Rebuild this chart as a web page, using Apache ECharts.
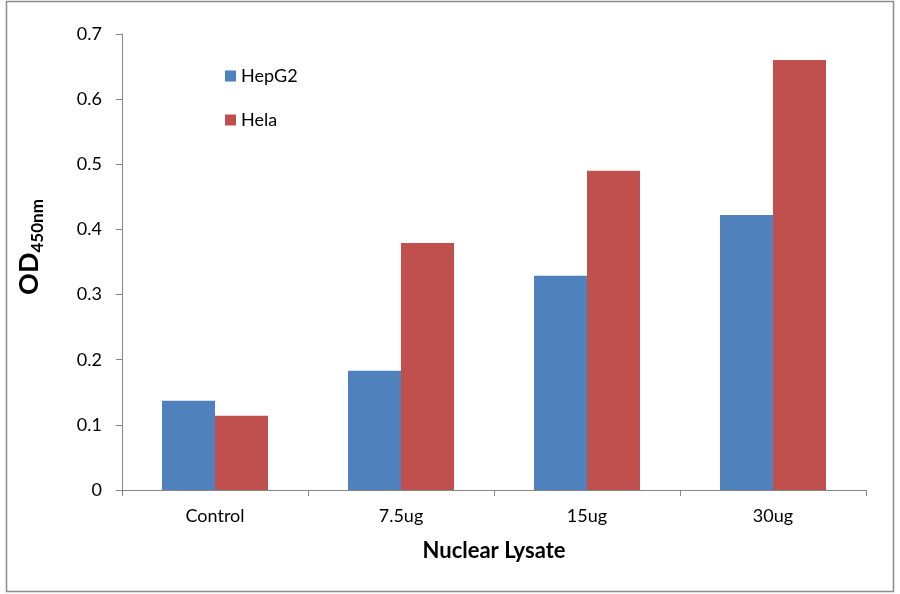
<!DOCTYPE html>
<html>
<head>
<meta charset="utf-8">
<script src="https://cdn.jsdelivr.net/npm/echarts@6/dist/echarts.min.js"></script>
<style>
  html, body { margin: 0; padding: 0; background: #fff; }
  #chart { width: 900px; height: 594px; }
</style>
</head>
<body>
<div id="chart"></div>
<script>
var categories = ['Control', '7.5ug', '15ug', '30ug'];
var hepg2 = [0.137, 0.183, 0.329, 0.422];
var hela = [0.114, 0.379, 0.490, 0.660];
var yTicks = { min: 0, max: 0.7, interval: 0.1 };

var axisGray = '#868686';
var font = 'Lato';

var myChart = echarts.init(document.getElementById('chart'));

myChart.setOption({
    animation: false,
    color: ['#4F81BD', '#C0504D'],
    textStyle: { fontFamily: font },
    // outer chart frame
    graphic: [{
        type: 'rect',
        shape: { x: 6.5, y: 1.5, width: 887, height: 590 },
        style: { fill: 'none', stroke: '#8c8c8c', lineWidth: 1.5 },
        silent: true
    }],
    grid: {
        left: 122,
        right: 34,
        top: 34,
        bottom: 104
    },
    legend: {
        orient: 'vertical',
        left: 220,
        top: 62,
        itemWidth: 11,
        itemHeight: 11,
        itemGap: 26,
        icon: 'rect',
        textStyle: { fontFamily: font, fontSize: 18, color: '#000' },
        data: ['HepG2', 'Hela']
    },
    xAxis: {
        type: 'category',
        data: categories,
        name: 'Nuclear Lysate',
        nameLocation: 'middle',
        nameGap: 50,
        nameTextStyle: { fontFamily: font, fontSize: 22, fontWeight: 'bold', color: '#000' },
        axisLine: { lineStyle: { color: axisGray, width: 1 } },
        axisTick: { show: true, alignWithLabel: false, length: 6, lineStyle: { color: axisGray } },
        axisLabel: { fontFamily: font, fontSize: 18, color: '#000', margin: 17 }
    },
    yAxis: {
        type: 'value',
        min: yTicks.min,
        max: yTicks.max,
        interval: yTicks.interval,
        name: '{a|OD}{b|450nm}',
        nameLocation: 'middle',
        nameRotate: 90,
        nameGap: 76,
        nameTextStyle: {
            color: '#000',
            padding: [0, 0, 0, 30],
            rich: {
                a: { fontFamily: font, fontSize: 27, fontWeight: 'bold', lineHeight: 30, verticalAlign: 'top' },
                b: { fontFamily: font, fontSize: 17, fontWeight: 'bold', verticalAlign: 'bottom', padding: [12, 0, 0, 0] }
            }
        },
        splitLine: { show: false },
        axisLine: { show: true, lineStyle: { color: axisGray, width: 1 } },
        axisTick: { show: true, length: 6, lineStyle: { color: axisGray } },
        axisLabel: {
            fontFamily: font,
            fontSize: 18,
            color: '#000',
            margin: 20,
            formatter: function (v) { return String(Math.round(v * 10) / 10); }
        }
    },
    series: [{
        name: 'HepG2',
        type: 'bar',
        data: hepg2,
        barGap: '0%',
        barCategoryGap: '43%'
    }, {
        name: 'Hela',
        type: 'bar',
        data: hela
    }]
});
</script>
</body>
</html>
